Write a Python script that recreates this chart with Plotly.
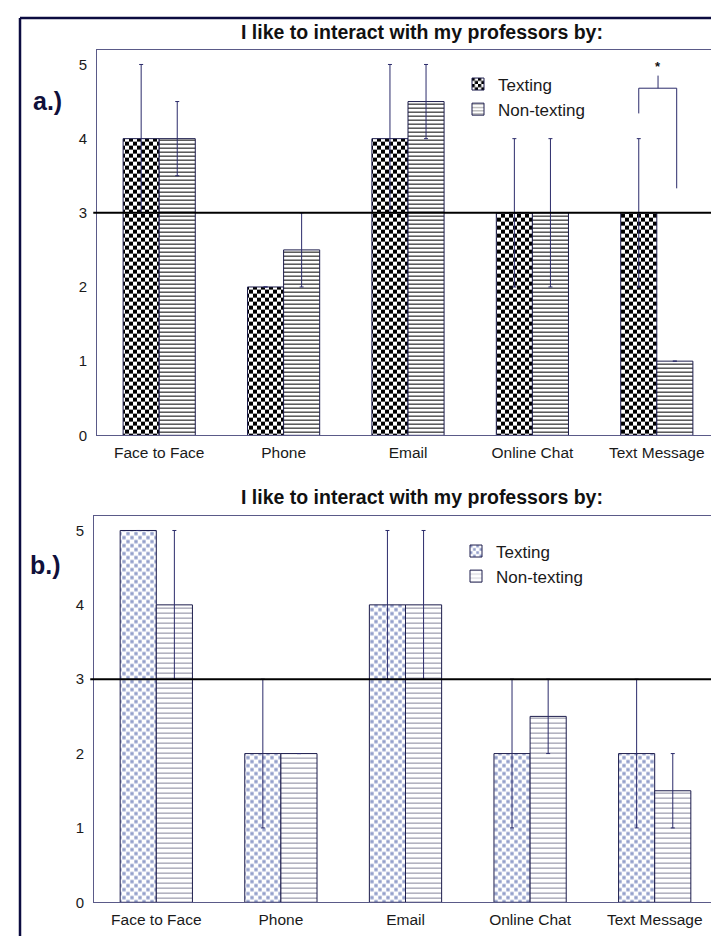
import plotly.graph_objects as go

# ---------------- data ----------------
categories = ["Face to Face", "Phone", "Email", "Online Chat", "Text Message"]
series_names = ["Texting", "Non-texting"]

a_texting = [4, 2, 4, 3, 3]
a_texting_err = [1, 0, 1, 1, 1]
a_nontexting = [4, 2.5, 4.5, 3, 1]
a_nontexting_err = [0.5, 0.5, 0.5, 1, 0]

b_texting = [5, 2, 4, 2, 2]
b_texting_err = [0, 1, 1, 1, 1]
b_nontexting = [4, 2, 4, 2.5, 1.5]
b_nontexting_err = [1, 0, 1, 0.5, 0.5]

y_ticks = [0, 1, 2, 3, 4, 5]
neutral_value = 3
title_text = "I like to interact with my professors by:"
panel_labels = ["a.)", "b.)"]

# significance bracket in panel a (levels: left leg bottom, bracket top, right leg bottom, tick top, star)
sig_category = "Text Message"
sig_levels = [4.34, 4.68, 3.33, 4.85, 4.97]

# ---------------- style ----------------
FONT = "Arial, 'Liberation Sans', sans-serif"
W, H = 719, 936
BARGAP = 0.42
ERR_COL = "#2b2b6b"
OUTLINE = "#1c1c4c"
AXIS_COL = "#5a5a88"

dom = {
    "a": dict(x=[89 / W, 711 / W], y=[1 - 431 / H, 1 - 42 / H]),
    "b": dict(x=[86 / W, 709 / W], y=[1 - 902 / H, 1 - 512 / H]),
}

panels = [
    dict(key="a", xa="x", ya="y", legend="legend",
         tex=a_texting, tex_err=a_texting_err, non=a_nontexting, non_err=a_nontexting_err,
         tex_fg="#000000", tex_sol=0.5, non_fg="#000000", non_size=4, non_sol=0.25),
    dict(key="b", xa="x2", ya="y2", legend="legend2",
         tex=b_texting, tex_err=b_texting_err, non=b_nontexting, non_err=b_nontexting_err,
         tex_fg="#94a0cb", tex_sol=0.35, non_fg="#85859a", non_size=5, non_sol=0.2),
]

fig = go.Figure()
for p in panels:
    fig.add_trace(go.Bar(
        x=categories, y=p["tex"], name=series_names[0], xaxis=p["xa"], yaxis=p["ya"],
        legend=p["legend"],
        marker=dict(color="white", line=dict(color=OUTLINE, width=1),
                    pattern=dict(shape=".", fgcolor=p["tex_fg"], bgcolor="white",
                                 size=8, solidity=p["tex_sol"], fillmode="overlay")),
        error_y=dict(type="data", array=p["tex_err"], symmetric=True, color=ERR_COL,
                     thickness=1, width=2),
    ))
    fig.add_trace(go.Bar(
        x=categories, y=p["non"], name=series_names[1], xaxis=p["xa"], yaxis=p["ya"],
        legend=p["legend"],
        marker=dict(color="white", line=dict(color=OUTLINE, width=1),
                    pattern=dict(shape="-", fgcolor=p["non_fg"], bgcolor="white",
                                 size=p["non_size"], solidity=p["non_sol"], fillmode="overlay")),
        error_y=dict(type="data", array=p["non_err"], symmetric=True, color=ERR_COL,
                     thickness=1, width=2),
    ))

axis_common = dict(showline=True, linecolor=AXIS_COL, linewidth=1, mirror=True,
                   showgrid=False, zeroline=False, ticks="")
layout = dict(
    width=W, height=H, margin=dict(l=0, r=0, t=0, b=0),
    paper_bgcolor="white", plot_bgcolor="white",
    barmode="group", bargap=BARGAP, bargroupgap=0,
    font=dict(family=FONT, color="#1a1a1a"),
    xaxis=dict(domain=dom["a"]["x"], anchor="y", type="category",
               tickfont=dict(size=15.5), ticklabelstandoff=3, **axis_common),
    yaxis=dict(domain=dom["a"]["y"], anchor="x", range=[0, 5.2], tickvals=y_ticks,
               tickfont=dict(size=15), ticklabelstandoff=6, **axis_common),
    xaxis2=dict(domain=dom["b"]["x"], anchor="y2", type="category",
                tickfont=dict(size=15.5), ticklabelstandoff=3, **axis_common),
    yaxis2=dict(domain=dom["b"]["y"], anchor="x2", range=[0, 5.2], tickvals=y_ticks,
                tickfont=dict(size=15), ticklabelstandoff=6, **axis_common),
    legend=dict(x=450 / W, y=1 - 59 / H, xanchor="left", yanchor="top",
                font=dict(size=17, family=FONT), bgcolor="rgba(0,0,0,0)",
                traceorder="normal", itemwidth=30),
    legend2=dict(x=448 / W, y=1 - 530 / H, xanchor="left", yanchor="top",
                 font=dict(size=17, family=FONT), bgcolor="rgba(0,0,0,0)",
                 traceorder="normal", itemwidth=30),
    showlegend=True,
)
fig.update_layout(**layout)

shapes = []
annotations = []
# neutral reference line at 3
for xa, ya in (("x", "y"), ("x2", "y2")):
    shapes.append(dict(type="line", xref=f"{xa} domain", yref=ya, x0=-0.006, x1=1,
                       y0=neutral_value, y1=neutral_value,
                       line=dict(color="#000000", width=2), layer="above"))

# titles and panel labels
for key, ty, lab_y, lab_x in (("a", 24, 94, 39), ("b", 493, 562, 37)):
    annotations.append(dict(xref="paper", yref="paper", x=414 / W, y=1 - ty / H,
                            text=f"<b>{title_text}</b>", showarrow=False,
                            xanchor="center", yanchor="middle",
                            font=dict(size=19.5, family=FONT, color="#111111")))
    annotations.append(dict(xref="paper", yref="paper", x=lab_x / W, y=1 - lab_y / H,
                            text=f"<b>{panel_labels[0 if key == 'a' else 1]}</b>",
                            showarrow=False, xanchor="center", yanchor="middle",
                            font=dict(size=25, family=FONT, color="#10103a")))

# significance bracket (panel a)
ci = categories.index(sig_category)
off = (1 - BARGAP) / 4
lb, top, rb, tt, star = sig_levels
for (x0, y0, x1, y1) in ((ci - off, lb, ci - off, top),
                         (ci - off, top, ci + off + 0.015, top),
                         (ci + off + 0.015, top, ci + off + 0.015, rb),
                         (ci + 0.01, top, ci + 0.01, tt)):
    shapes.append(dict(type="line", xref="x", yref="y", x0=x0, x1=x1, y0=y0, y1=y1,
                       line=dict(color=ERR_COL, width=1)))
annotations.append(dict(xref="x", yref="y", x=ci + 0.01, y=star, text="<b>*</b>",
                        showarrow=False, font=dict(size=13, family=FONT, color="#111111"),
                        yanchor="middle"))

# scanned-page frame (left and top edge)
shapes.append(dict(type="line", xref="paper", yref="paper", x0=12 / W, x1=12 / W,
                   y0=0, y1=1 - 10 / H, line=dict(color="#0c0c40", width=2.5)))
shapes.append(dict(type="line", xref="paper", yref="paper", x0=12 / W, x1=1,
                   y0=1 - 10 / H, y1=1 - 10 / H, line=dict(color="#0c0c40", width=2.5)))

fig.update_layout(shapes=shapes, annotations=annotations)

# turn the dot pattern into a checkerboard and keep stripe lines pixel-crisp
post = """
var gd = document.getElementById('{plot_id}');
function restyle(){
  var ns = 'http://www.w3.org/2000/svg';
  var pats = gd.querySelectorAll('pattern');
  pats.forEach(function(p){
    var w = parseFloat(p.getAttribute('width'));
    var h = parseFloat(p.getAttribute('height'));
    var c = p.querySelector('circle');
    if(c){
      var r = parseFloat(c.getAttribute('r'));
      var col = c.getAttribute('fill') || c.style.fill || window.getComputedStyle(c).fill;
      c.parentNode.removeChild(c);
      var side = Math.min(w/2, r*1.254);
      var pad = (w/2 - side)/2;
      [[0,0],[w/2,h/2]].forEach(function(o){
        var q = document.createElementNS(ns,'rect');
        q.setAttribute('x', o[0]+pad); q.setAttribute('y', o[1]+pad);
        q.setAttribute('width', side); q.setAttribute('height', side);
        q.setAttribute('fill', col);
        q.style.fill = col;
        p.appendChild(q);
      });
      return;
    }
    if((p.getAttribute('patternTransform')||'').indexOf('scale') >= 0) return;
    var path = p.querySelector('path');
    if(path){
      var stroke = path.getAttribute('stroke') || path.style.stroke || window.getComputedStyle(path).stroke;
      var sw = parseFloat(path.getAttribute('stroke-width') || path.style.strokeWidth || window.getComputedStyle(path).strokeWidth);
      var th = Math.max(1, Math.round(sw));
      var y0 = Math.round(h/2 - th/2);
      path.parentNode.removeChild(path);
      var q = document.createElementNS(ns,'rect');
      q.setAttribute('x', 0); q.setAttribute('y', y0);
      q.setAttribute('width', w); q.setAttribute('height', th);
      q.setAttribute('fill', stroke);
      q.style.fill = stroke;
      p.appendChild(q);
    }
  });
}
restyle();
"""
fig.write_html("out.html", post_script=post)
